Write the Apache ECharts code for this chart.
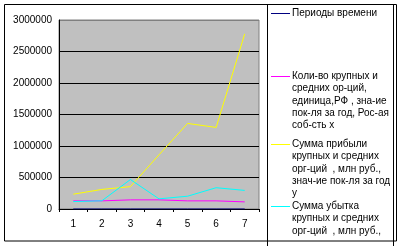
<!DOCTYPE html>
<html>
<head>
<meta charset="utf-8">
<script src="https://cdn.jsdelivr.net/npm/echarts@6/dist/echarts.min.js"></script>
<style>
html,body{margin:0;padding:0;background:#fff;}
#chart{width:403px;height:246px;}
</style>
</head>
<body>
<div id="chart"></div>
<script>
// Data
const categories = ['1', '2', '3', '4', '5', '6', '7'];
const periods = [1, 2, 3, 4, 5, 6, 7];
const orgCount = [129000, 129000, 145000, 145000, 129000, 129000, 113000];
const profit = [235000, 311000, 355000, 860000, 1358000, 1295000, 2780000];
const loss = [118000, 130000, 468000, 161000, 203000, 338000, 295000];
const seriesNames = ['Периоды времени', 'Коли-во крупных и средних ор-ций, единица,РФ , зна-ие пок-ля за год, Рос-ая соб-сть х', 'Сумма прибыли крупных и средних орг-ций  , млн руб., знач-ие пок-ля за год у', 'Сумма убытка крупных и средних орг-ций  , млн руб.,'];
const legendLines = [
  ['Периоды времени'],
  ['Коли-во крупных и', 'средних ор-ций,', 'единица,РФ , зна-ие', 'пок-ля за год, Рос-ая', 'соб-сть х'],
  ['Сумма прибыли', 'крупных и средних', 'орг-ций  , млн руб.,', 'знач-ие пок-ля за год', 'у'],
  ['Сумма убытка', 'крупных и средних', 'орг-ций  , млн руб.,']
];
const seriesColors = ['#000080', '#FF00FF', '#FFFF00', '#00FFFF'];
const yMin = 0, yMax = 3000000, yInterval = 500000;

const FONT = '"Liberation Sans", Arial, sans-serif';
const chart = echarts.init(document.getElementById('chart'), null, {renderer: 'canvas'});

const legendY = [13, 76, 144, 206];
const LH = 12.4;
const graphics = [
  {type: 'rect', shape: {x: 4.5, y: 4.5, width: 392, height: 236.5}, style: {fill: 'none', stroke: '#000', lineWidth: 1}, silent: true, z: 0},
  {type: 'rect', shape: {x: 267.5, y: 4.5, width: 126, height: 260}, style: {fill: 'none', stroke: '#000', lineWidth: 1}, silent: true, z: 0}
];
legendLines.forEach((lines, i) => {
  graphics.push({type: 'line', shape: {x1: 271, y1: legendY[i] + 0.5, x2: 290, y2: legendY[i] + 0.5}, style: {stroke: seriesColors[i], lineWidth: 1}, silent: true});
  graphics.push({type: 'text', x: 292, y: legendY[i] - LH / 2, style: {text: lines.join('\n'), font: '10px ' + FONT, fill: '#000', lineHeight: LH, verticalAlign: 'top', align: 'left'}, silent: true});
});

const option = {
  animation: false,
  backgroundColor: '#fff',
  grid: {left: 59, right: 144, top: 20, bottom: 37, show: true, backgroundColor: '#C0C0C0', borderColor: '#808080', borderWidth: 1},
  xAxis: {
    type: 'category',
    data: categories,
    boundaryGap: true,
    axisLine: {lineStyle: {color: '#000', width: 1}},
    axisTick: {show: true, length: 3, lineStyle: {color: '#000'}},
    axisLabel: {color: '#000', fontFamily: FONT, fontSize: 10, margin: 10}
  },
  yAxis: {
    type: 'value',
    min: yMin, max: yMax, interval: yInterval,
    axisLine: {show: true, lineStyle: {color: '#000', width: 1}},
    axisTick: {show: false},
    axisLabel: {color: '#000', fontFamily: FONT, fontSize: 10, margin: 7, formatter: v => String(v)},
    splitLine: {show: true, lineStyle: {color: ['#000', '#000', '#000', '#000', '#000', '#000', '#808080'], width: 1}}
  },
  graphic: graphics,
  series: [periods, orgCount, profit, loss].map((d, i) => ({
    name: seriesNames[i],
    type: 'line',
    data: d,
    symbol: 'none',
    lineStyle: {color: seriesColors[i], width: 1},
    itemStyle: {color: seriesColors[i]}
  }))
};
chart.setOption(option);
</script>
</body>
</html>
